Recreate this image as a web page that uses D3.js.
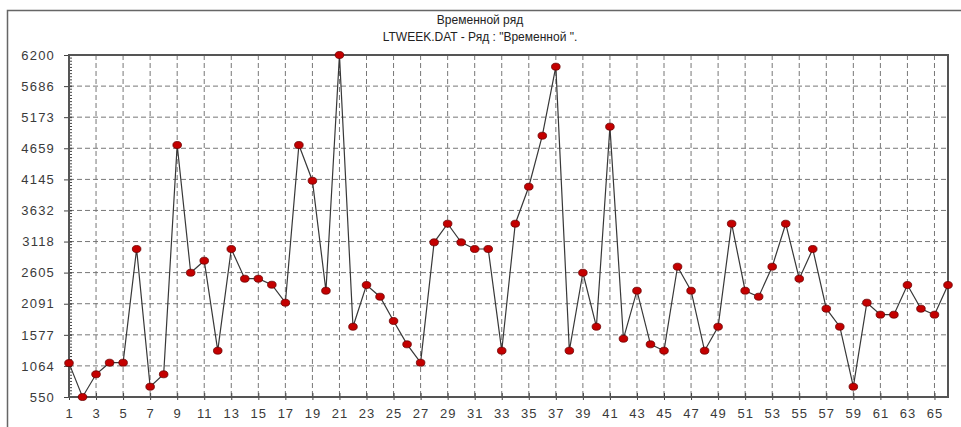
<!DOCTYPE html>
<html><head><meta charset="utf-8">
<script src="https://cdn.jsdelivr.net/npm/d3@7/dist/d3.min.js"></script>
<style>body{margin:0;background:#fff}svg{display:block}</style>
</head><body>
<script>
const title = "Временной ряд";
const subtitle = "LTWEEK.DAT - Ряд : \"Временной \".";
const xValues = d3.range(1, 67);
const values = [1110, 550, 925, 1117, 1117, 2995, 720, 925, 4713, 2603,
  2802, 1315, 2995, 2504, 2504, 2405, 2108, 4713, 4123, 2306,
  6200, 1711, 2400, 2207, 1806, 1420, 1117, 3105, 3413, 3105,
  2995, 2995, 1315, 3413, 4024, 4867, 6007, 1315, 2603, 1711,
  5016, 1513, 2306, 1420, 1315, 2703, 2306, 1315, 1711, 3413,
  2306, 2207, 2703, 3413, 2504, 2995, 2009, 1711, 720, 2108,
  1910, 1910, 2400, 2009, 1910, 2400];
const yTicks = [550, 1064, 1577, 2091, 2605, 3118, 3632, 4145, 4659, 5173, 5686, 6200];
const xTicks = d3.range(1, 66, 2);

const W = 961, H = 427;
const L = 69, R = 948, T = 55, B = 397;
const svg = d3.select("body").append("svg").attr("width", W).attr("height", H);
const font = "'Liberation Sans', Arial, sans-serif";

// outer frame
svg.append("path").attr("d", `M7.5,${H+2} V10.5 H${W+2}`).attr("fill","none").attr("stroke","#666").attr("stroke-width",1.5);

svg.append("text").attr("x", 480).attr("y", 24).attr("text-anchor","middle")
  .attr("font-family", font).attr("font-size", 12).attr("fill","#222").text(title);
svg.append("text").attr("x", 480).attr("y", 41).attr("text-anchor","middle")
  .attr("font-family", font).attr("font-size", 12).attr("fill","#222").text(subtitle);

const x = d3.scaleLinear().domain([1, 66]).range([L, R]);
const y = d3.scaleLinear().domain([550, 6200]).range([B, T]);

// grid
const g = svg.append("g");
g.selectAll("line.h").data(yTicks.slice(1, -1)).join("line")
  .attr("x1", L).attr("x2", R).attr("y1", d => y(d)).attr("y2", d => y(d))
  .attr("stroke", "#777").attr("stroke-width", 1).attr("stroke-dasharray", "5,3");
g.selectAll("line.v").data(xTicks.slice(1)).join("line")
  .attr("y1", T).attr("y2", B).attr("x1", d => x(d)).attr("x2", d => x(d))
  .attr("stroke", "#777").attr("stroke-width", 1).attr("stroke-dasharray", "5,3");

// y axis
const yAxis = d3.axisLeft(y).tickValues(yTicks).tickSize(5).tickPadding(9).tickFormat(d3.format("d"));
const ya = svg.append("g").attr("transform", `translate(${L},0)`).call(yAxis);
ya.select(".domain").remove();
ya.selectAll("line").attr("stroke","#444").attr("x2", 3).attr("x1", -5);
ya.selectAll("text").attr("font-family", font).attr("font-size", 13).attr("fill", "#3a3a3a").attr("letter-spacing", "1.2px");
// minor ticks on y axis
const minor = d3.range(550, 6200, (6200 - 550) / 110);
svg.append("g").selectAll("line").data(minor).join("line")
  .attr("x1", L).attr("x2", L + 3).attr("y1", d => y(d)).attr("y2", d => y(d))
  .attr("stroke", "#444").attr("stroke-width", 1);

// x axis
const xAxis = d3.axisBottom(x).tickValues(xTicks).tickSize(4).tickPadding(8).tickFormat(d3.format("d"));
const xa = svg.append("g").attr("transform", `translate(0,${B})`).call(xAxis);
xa.select(".domain").remove();
xa.selectAll("line").attr("stroke","#444").attr("y1", -4).attr("y2", 3);
xa.selectAll("text").attr("font-family", font).attr("font-size", 13).attr("fill", "#3a3a3a").attr("letter-spacing", "1px");

// plot frame
svg.append("rect").attr("x", L).attr("y", T).attr("width", R - L).attr("height", B - T)
  .attr("fill","none").attr("stroke","#555").attr("stroke-width", 2);

// series line
const line = d3.line().x((d, i) => x(xValues[i])).y(d => y(d));
svg.append("path").datum(values).attr("d", line).attr("fill","none").attr("stroke","#383838").attr("stroke-width",1.2);

// markers
svg.append("g").selectAll("ellipse").data(values).join("ellipse")
  .attr("cx", (d, i) => x(xValues[i])).attr("cy", d => y(d))
  .attr("rx", 4.3).attr("ry", 3.5).attr("fill", "#c40000").attr("stroke", "#6a0000").attr("stroke-width", 0.8);
</script>
</body></html>
